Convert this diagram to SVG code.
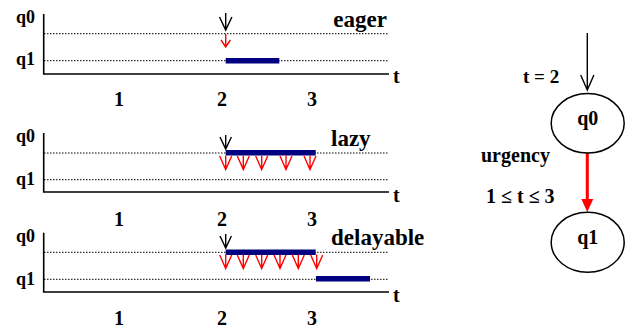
<svg xmlns="http://www.w3.org/2000/svg" width="628" height="332" viewBox="0 0 628 332">
<style>
text{font-family:"Liberation Serif","Times New Roman",serif;font-weight:bold;fill:#000}
.lbl{font-size:18px}
.tt{font-size:20px}
.mode{font-size:23px}
.num{font-size:20px;text-anchor:middle}
.rt{font-size:20px}
.axis{stroke:#000;stroke-width:1.6;fill:none}
.dot{stroke:#000;stroke-width:1;stroke-dasharray:1.5 1.5;fill:none}
.bar{stroke:#000080;stroke-width:5.5;fill:none}
.blk{stroke:#000;stroke-width:1.4;fill:none}
.red{stroke:#ff0000;stroke-width:1.4;fill:none}
.node{fill:#fff;stroke:#000;stroke-width:1.5}
</style>
<defs>
<path id="rv" class="red" d="M0,0 V14 M-6,0.5 L0,14 L6,0.5"/>
</defs>

<g id="eager">
<text class="lbl" x="16" y="23">q0</text>
<text class="lbl" x="16" y="65">q1</text>
<line class="dot" x1="44" y1="33.7" x2="388" y2="33.7"/>
<line class="dot" x1="44" y1="60.7" x2="388" y2="60.7"/>
<path class="axis" d="M43.7,14 V74 H389"/>
<text class="tt" x="393" y="83">t</text>
<text class="mode" x="387" y="27" text-anchor="end">eager</text>
<text class="num" x="119" y="106">1</text>
<text class="num" x="222" y="106">2</text>
<text class="num" x="312" y="106">3</text>
<path class="blk" d="M225.7,13 V30 M219.5,17 L225.7,30 L231.9,17"/>
<path class="red" d="M225.7,34 V47 M221,40 L225.7,47 L230.4,40"/>
<line class="bar" x1="225.7" y1="60.7" x2="279.3" y2="60.7"/>
</g>

<g id="lazy">
<text class="lbl" x="16" y="142">q0</text>
<text class="lbl" x="16" y="185">q1</text>
<line class="dot" x1="44" y1="153" x2="388" y2="153"/>
<line class="dot" x1="44" y1="179.7" x2="388" y2="179.7"/>
<path class="axis" d="M43.7,133 V192 H389"/>
<text class="tt" x="393" y="202">t</text>
<text class="mode" x="331" y="146">lazy</text>
<text class="num" x="119" y="226">1</text>
<text class="num" x="222" y="226">2</text>
<text class="num" x="312" y="226">3</text>
<path class="blk" d="M225.7,135 V149 M220,137 L225.7,149 L231.4,137"/>
<line class="bar" x1="225.7" y1="152.8" x2="315.7" y2="152.8"/>
<use href="#rv" x="225.7" y="155.5"/>
<use href="#rv" x="243.3" y="155.5"/>
<use href="#rv" x="261.7" y="155.5"/>
<use href="#rv" x="286" y="155.5"/>
<use href="#rv" x="310" y="155.5"/>
</g>

<g id="delayable">
<text class="lbl" x="16" y="242">q0</text>
<text class="lbl" x="16" y="285">q1</text>
<line class="dot" x1="44" y1="252.3" x2="388" y2="252.3"/>
<line class="dot" x1="44" y1="279.3" x2="388" y2="279.3"/>
<path class="axis" d="M43.7,232.7 V292 H389"/>
<text class="tt" x="393" y="302">t</text>
<text class="mode" x="331" y="245">delayable</text>
<text class="num" x="119" y="325">1</text>
<text class="num" x="222" y="325">2</text>
<text class="num" x="312" y="325">3</text>
<path class="blk" d="M225.7,234 V248 M220,236 L225.7,248 L231.4,236"/>
<line class="bar" x1="225.7" y1="252.2" x2="315.7" y2="252.2"/>
<line class="bar" x1="316" y1="278.8" x2="370" y2="278.8"/>
<use href="#rv" x="225.7" y="254.5"/>
<use href="#rv" x="243.3" y="254.5"/>
<use href="#rv" x="261.7" y="254.5"/>
<use href="#rv" x="280" y="254.5"/>
<use href="#rv" x="298.3" y="254.5"/>
<use href="#rv" x="316.7" y="254.5"/>
</g>

<g id="connectors">
<path class="blk" d="M587.3,33 V90 M580.7,75 L587.3,90 L593.9,75"/>
<line x1="587.3" y1="153" x2="587.3" y2="200" stroke="#ff0000" stroke-width="3"/>
<polygon points="581.3,199 593.3,199 587.3,212" fill="#ff0000"/>
<text class="rt" x="523" y="83" style="font-size:19px">t = 2</text>
<text class="rt" x="481" y="162">urgency</text>
<text class="rt" x="486" y="203">1 ≤ t ≤ 3</text>
</g>

<g id="q0">
<ellipse class="node" cx="587.7" cy="123.3" rx="36.5" ry="29.7"/>
<text class="rt" x="587.7" y="124.5" text-anchor="middle">q0</text>
</g>
<g id="q1">
<ellipse class="node" cx="587.7" cy="242.3" rx="36.5" ry="30"/>
<text class="rt" x="587.7" y="244" text-anchor="middle">q1</text>
</g>
</svg>
